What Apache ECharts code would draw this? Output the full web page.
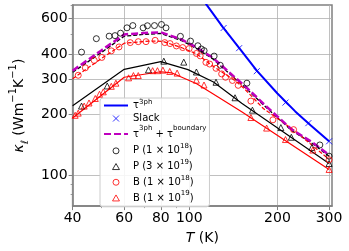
<!DOCTYPE html>
<html><head><meta charset="utf-8">
<script src="https://cdn.jsdelivr.net/npm/echarts@6/dist/echarts.min.js"></script>
<style>html,body{margin:0;padding:0;background:#fff}#c{width:349px;height:251px}</style>
</head><body><div id="c"></div>
<script>
// ---- axis ticks / ranges ----
const xMajorTicks = [40, 60, 80, 100, 200, 300];
const xMinorTicks = [50, 70, 90];
const yMajorTicks = [100, 200, 300, 400, 600];
const yMinorTicks = [80, 90, 500, 700];
const xRange = [40, 307];
const yRange = [70, 700];

// ---- tau^3ph (blue line) ----
const tau3phT = [100, 115, 130, 150, 170, 200, 230, 260, 300];
const tau3phK = [930, 697, 545, 418, 330, 254, 207, 176, 147];
// ---- Slack (blue x) ----
const slackT = [131, 148, 170, 213, 255, 300];
const slackK = [538, 427, 328, 229, 181, 147];
// ---- tau^3ph + tau^boundary (magenta dashed) ----
const sumT = [40, 50, 60, 70, 80, 94, 106, 120, 143, 154, 184, 224, 260, 300];
const sumK = [330, 415, 500, 508, 512, 472, 430, 384, 306, 279, 218, 168, 147, 126];
// ---- fit lines (not in legend) ----
const blackDashT = [40, 50, 60, 70, 80, 94, 106, 120, 143, 154, 184, 224, 260, 300];
const blackDashK = [324, 405, 490, 500, 505, 466, 425, 379, 302, 275, 215, 166, 145, 124];
const redDashT = [40, 50, 60, 73, 81, 94, 106, 120, 143, 154, 179, 227, 300];
const redDashK = [301, 378, 452, 463, 462, 430, 400, 349, 295, 269, 214, 167.5, 119.5];
const blackSolidT = [40, 60, 80, 99, 121, 151, 300];
const blackSolidK = [221, 335, 366, 334, 290, 227, 114];
const redSolidT = [40, 60, 80, 87, 106, 120, 151, 300];
const redSolidK = [192, 306, 326, 322, 284, 254, 206, 106.5];
// ---- P (1e18) black circles ----
const p18T = [42.9, 48.2, 53.3, 55.8, 58.3, 61.3, 64.2, 69.6, 72, 76.1, 80.4, 83.3, 93.3, 101, 107, 110, 112.4, 121.6, 127.6, 157.3, 279, 300];
const p18K = [408, 476, 490, 493, 507, 539, 553, 539, 552, 553, 560, 539, 489, 463, 439, 423, 415, 390, 351, 286, 141, 124];
// ---- P (3e19) black triangles ----
const p19T = [42.9, 52.5, 72.6, 81.9, 95.8, 105.8, 123.4, 143.3, 164.3, 205.4, 223, 262.2, 300];
const p19K = [220, 277, 333, 368, 364, 325, 289, 242, 210, 172, 154, 137, 114];
// ---- B (1e18) red circles ----
const b18T = [41.8, 44.2, 47.4, 50.3, 54.2, 57.6, 62.9, 67, 71.2, 76.5, 82.5, 86, 90.4, 95, 99.9, 105.8, 109, 114, 117.4, 123.4, 129, 133, 140.4, 146.9, 162.3, 193, 227, 300];
const b18K = [313, 341, 371, 384, 414, 433, 455, 460, 460, 467, 455, 450, 438, 430, 425, 402, 391, 363, 356, 339, 318, 306, 295, 279, 233, 188, 168, 119];
// ---- B (1e19) red triangles ----
const b19T = [40.8, 41.8, 43.8, 45.5, 47.8, 49.4, 50.9, 54.2, 56.2, 62.1, 64.5, 67, 75, 77.9, 81.3, 85.8, 90.9, 105.8, 112.3, 162.3, 183.7, 213, 264, 300];
const b19K = [198, 203, 220, 228, 240, 252, 259, 276, 286, 304, 312, 312, 330, 330, 332, 327, 321, 296, 280, 193, 171, 150, 133, 106.5];

const L = Math.log10;
const pairs = (T, K) => T.map((t, i) => [L(t), L(K[i])]);
const FONT = 'DejaVu Sans';
const BLUE = '#0000ff', MAG = '#bf00bf', BLK = '#000000', RED = '#ff0000';
const SPINE = '#808080';
const CIRCLE = 'path://M0,5A5,5 0 1,1 10,5A5,5 0 1,1 0,5Z';
const TRI = 'path://M5,0L10,8.66L0,8.66Z';
const CROSS = 'path://M0,0L10,10M10,0L0,10';

const legendNames = {
  tau3ph: '{a|τ}{sa|3ph}',
  slack: '{a|Slack}',
  tauSum: '{c|τ}{sc|3ph}{c| + τ}{sc|boundary}',
  p18: '{d|P (1 × 10}{sd|18}{d|)}',
  p19: '{d|P (3 × 10}{sd|19}{d|)}',
  b18: '{d|B (1 × 10}{sd|18}{d|)}',
  b19: '{d|B (1 × 10}{sd|19}{d|)}'
};

function lineSeries(name, T, K, color, width, type, z) {
  return {
    name: name, type: 'line', data: pairs(T, K), symbol: 'none', showSymbol: false,
    lineStyle: { color: color, width: width, type: type },
    itemStyle: { color: 'transparent' },
    clip: true, z: z, silent: true
  };
}
function scatterSeries(name, T, K, symbol, color, size) {
  return {
    name: name, type: 'scatter', data: pairs(T, K), symbol: symbol, symbolSize: size,
    itemStyle: { color: 'none', borderColor: color, borderWidth: 1 },
    clip: true, z: 5, silent: true
  };
}
const txt = (fs, lh, extra) => Object.assign({ fontSize: fs, fontFamily: FONT, color: '#000', lineHeight: lh }, extra || {});

const chart = echarts.init(document.getElementById('c'), null, { renderer: 'canvas' });
chart.setOption({
  animation: false,
  backgroundColor: '#ffffff',
  textStyle: { fontFamily: FONT },
  grid: { left: 59, right: 17, top: 5, bottom: 43, show: true, borderColor: SPINE, borderWidth: 1.5, backgroundColor: 'transparent' },
  xAxis: [
    {
      type: 'value', min: L(xRange[0]), max: L(xRange[1]),
      name: '{i|T}{m| (K)}', nameLocation: 'middle', nameGap: 20,
      nameTextStyle: { color: '#000', fontSize: 14, lineHeight: 16,
        rich: { i: txt(14, 16, { fontStyle: 'italic' }), m: txt(14, 16) } },
      axisLine: { show: true, lineStyle: { color: SPINE, width: 1.5 } },
      axisTick: { show: true, length: 4, lineStyle: { color: SPINE, width: 1 }, customValues: xMajorTicks.map(L) },
      axisLabel: { show: true, customValues: xMajorTicks.map(L), formatter: v => String(Math.round(Math.pow(10, v))),
        fontSize: 14, color: '#000', fontFamily: FONT, margin: 5 },
      splitLine: { show: true, lineStyle: { color: '#b0b0b0', width: 0.8 } }
    },
    {
      type: 'value', min: L(xRange[0]), max: L(xRange[1]), position: 'bottom',
      axisLine: { show: false },
      axisTick: { show: true, length: 2, lineStyle: { color: SPINE, width: 0.8 }, customValues: xMinorTicks.map(L) },
      axisLabel: { show: false }, splitLine: { show: false }
    }
  ],
  yAxis: [
    {
      type: 'value', min: L(yRange[0]), max: L(yRange[1]),
      name: '{i|κ}{sub|ℓ}{m| (Wm}{sup|−1}{m|K}{sup|−1}{m|)}',
      nameLocation: 'middle', nameRotate: 90, nameGap: 37,
      nameTextStyle: { color: '#000', fontSize: 14, lineHeight: 22,
        rich: {
          i: txt(14, 22, { fontStyle: 'italic' }),
          m: txt(14, 22),
          sup: txt(10, 6, { verticalAlign: 'top' }),
          sub: txt(10, 14, { fontStyle: 'italic', verticalAlign: 'bottom' })
        } },
      axisLine: { show: true, lineStyle: { color: SPINE, width: 1.5 } },
      axisTick: { show: true, length: 4, lineStyle: { color: SPINE, width: 1 }, customValues: yMajorTicks.map(L) },
      axisLabel: { show: true, customValues: yMajorTicks.map(L), formatter: v => String(Math.round(Math.pow(10, v))),
        fontSize: 14, color: '#000', fontFamily: FONT, margin: 5 },
      splitLine: { show: true, lineStyle: { color: '#b0b0b0', width: 0.8 } }
    },
    {
      type: 'value', min: L(yRange[0]), max: L(yRange[1]), position: 'left',
      axisLine: { show: false },
      axisTick: { show: true, length: 2, lineStyle: { color: SPINE, width: 0.8 }, customValues: yMinorTicks.map(L) },
      axisLabel: { show: false }, splitLine: { show: false }
    }
  ],
  legend: {
    orient: 'vertical', left: 100, top: 98,
    data: [
      { name: 'tau3ph' },
      { name: 'slack', icon: CROSS },
      { name: 'tauSum' },
      { name: 'p18', icon: CIRCLE },
      { name: 'p19', icon: TRI },
      { name: 'b18', icon: CIRCLE },
      { name: 'b19', icon: TRI }
    ],
    itemWidth: 24, itemHeight: 6, itemGap: 0,
    padding: [1, 3, 1, 3],
    symbolKeepAspect: true,
    itemStyle: { borderWidth: 1 },
    backgroundColor: 'rgba(255,255,255,0.85)', borderColor: '#cccccc', borderWidth: 1, borderRadius: 3,
    formatter: n => legendNames[n],
    textStyle: { fontSize: 10, color: '#000', fontFamily: FONT, lineHeight: 13,
      rich: {
        a: txt(10, 13), sa: txt(7, 3, { verticalAlign: 'top' }),
        c: txt(10, 18), sc: txt(7, 8, { verticalAlign: 'top' }),
        d: txt(10, 15.7), sd: txt(7, 5.7, { verticalAlign: 'top' })
      } },
    selectedMode: false
  },
  series: [
    lineSeries(undefined, blackSolidT, blackSolidK, BLK, 1.2, 'solid', 2),
    lineSeries(undefined, redSolidT, redSolidK, RED, 1.2, 'solid', 2),
    lineSeries(undefined, blackDashT, blackDashK, BLK, 1.3, [4, 2], 2),
    lineSeries(undefined, redDashT, redDashK, RED, 1.2, [4, 2], 2),
    lineSeries('tau3ph', tau3phT, tau3phK, BLUE, 2, 'solid', 3),
    scatterSeries('slack', slackT, slackK, CROSS, BLUE, 6),
    lineSeries('tauSum', sumT, sumK, MAG, 2.5, [7, 3], 4),
    scatterSeries('p18', p18T, p18K, CIRCLE, BLK, 6),
    scatterSeries('p19', p19T, p19K, TRI, BLK, 6),
    scatterSeries('b18', b18T, b18K, CIRCLE, RED, 6),
    scatterSeries('b19', b19T, b19K, TRI, RED, 6)
  ]
});
</script></body></html>
